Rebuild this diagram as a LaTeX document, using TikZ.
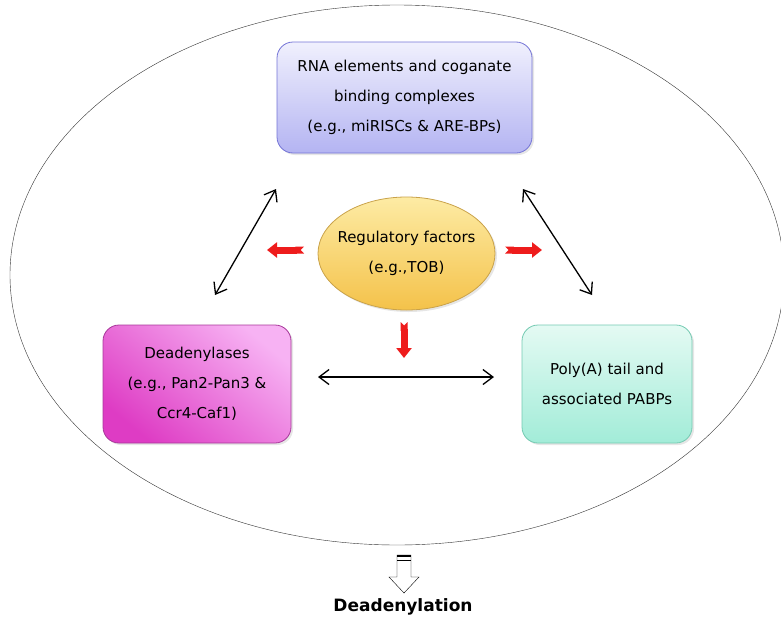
\documentclass[tikz,border=0pt]{standalone}
\usepackage{fontspec}
\setmainfont{DejaVu Sans}
\usetikzlibrary{arrows.meta,shadows,shapes.geometric}

\definecolor{rnaTop}{HTML}{F0F0FD}
\definecolor{rnaBot}{HTML}{B4B4F2}
\definecolor{rnaLine}{HTML}{7474D6}
\definecolor{regTop}{HTML}{FDEBA4}
\definecolor{regBot}{HTML}{F4C24A}
\definecolor{regLine}{HTML}{C9A24A}
\definecolor{deaTop}{HTML}{F7B2F3}
\definecolor{deaBot}{HTML}{DE3CC4}
\definecolor{deaLine}{HTML}{A8389A}
\definecolor{polTop}{HTML}{E4FAF3}
\definecolor{polBot}{HTML}{A2ECD8}
\definecolor{polLine}{HTML}{74CAB2}
\definecolor{redArr}{HTML}{EE1C1C}

\begin{document}
\begin{tikzpicture}[x=1pt,y=1pt,
    complexbox/.style ={rectangle, rounded corners=16pt, thick, align=center,
        font=\fontsize{15}{30}\selectfont,
        drop shadow={opacity=0.2, shadow xshift=2pt, shadow yshift=-2pt}},
    linkarrow/.style ={line width=1.3pt, {Straight Barb[length=10pt,width=15pt]}-{Straight Barb[length=10pt,width=15pt]}},
    redarrow/.style ={redArr, line width=7pt, {Triangle Cap[reversed]}-{Triangle[length=10pt,width=15pt]}}]
   \useasboundingbox (0,0) rectangle (781,-621);
   % outer cell
   \draw[black!80] (397,-275) ellipse [x radius=387, y radius=270];
   % four players
   \node[complexbox, draw=rnaLine, top color=rnaTop, bottom color=rnaBot,
         minimum width=255, minimum height=111] (rna) at (404.5,-97.5)
         {RNA elements and coganate\\binding complexes\\(e.g., miRISCs \& ARE-BPs)};
   \node[complexbox, draw=deaLine, top color=deaTop, bottom color=deaBot, shading angle=-40,
         minimum width=188, minimum height=118] (dead) at (197,-384)
         {Deadenylases\\(e.g., Pan2-Pan3 \&\\Ccr4-Caf1)};
   \node[complexbox, draw=polLine, top color=polTop, bottom color=polBot,
         minimum width=170, minimum height=118] (polya) at (607,-384)
         {Poly(A) tail and\\associated PABPs};
   \node[ellipse, draw=regLine, thick, top color=regTop, bottom color=regBot,
         minimum width=177, minimum height=113, align=center, inner xsep=-14pt, inner ysep=-4pt,
         font=\fontsize{15}{30}\selectfont,
         drop shadow={opacity=0.2, shadow xshift=2pt, shadow yshift=-2pt}] (reg) at (406.5,-253.5)
         {Regulatory factors\\(e.g.,TOB)};
   % ends of the links
   \coordinate (la) at (276,-189);
   \coordinate (lb) at (215,-295);
   \coordinate (ra) at (523,-189);
   \coordinate (rb) at (592,-295);
   \coordinate (ha) at (318,-377);
   \coordinate (hb) at (494,-377);
   \draw[linkarrow] (lb) to (la);
   \draw[linkarrow] (ra) to (rb);
   \draw[linkarrow] (ha) to (hb);
   % red arrows from the regulators
   \coordinate (rl0) at (304,-250);
   \coordinate (rl) at (267,-250);
   \coordinate (rr0) at (505,-250);
   \coordinate (rr) at (542,-250);
   \coordinate (rd0) at (404,-322);
   \coordinate (rd) at (404,-358);
   \draw[redarrow] (rl0) to (rl);
   \draw[redarrow] (rr0) to (rr);
   \draw[redarrow] (rd0) to (rd);
   % outcome
   \node[font=\bfseries\fontsize{17}{20}\selectfont] (out) at (403,-607) {Deadenylation};
   \draw[fill=white] (397,-555) -- (411,-555) -- (411,-577) -- (419,-577)
        -- (404,-593) -- (389,-577) -- (397,-577) -- cycle;
   \draw[line width=2pt] (397,-556) -- (411,-556);
   \draw (397,-560) -- (411,-560);
 \end{tikzpicture}
\end{document}
